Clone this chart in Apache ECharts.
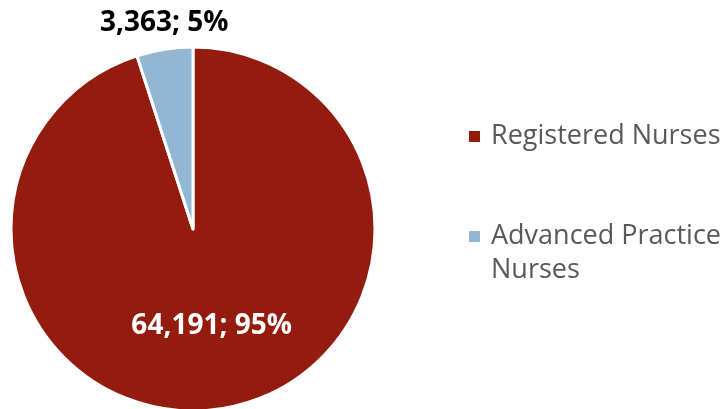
<!DOCTYPE html>
<html>
<head>
<meta charset="utf-8">
<script src="https://cdn.jsdelivr.net/npm/echarts@6/dist/echarts.min.js"></script>
<style>
html, body { margin: 0; padding: 0; background: #fff; }
#main { width: 728px; height: 409px; }
</style>
</head>
<body>
<div id="main"></div>
<script>
var names = ["Registered Nurses", "Advanced Practice Nurses"];
var values = [64191, 3363];
var percents = ["95%", "5%"];
var colors = ["#941c0f", "#93b6d2"];

function fmt(n) {
    return n.toString().replace(/\B(?=(\d{3})+(?!\d))/g, ",");
}

var chart = echarts.init(document.getElementById("main"));
var fontFam = "'Open Sans', 'Liberation Sans', sans-serif";

var pie_data = [];
for (var i = 0; i < names.length; i++) {
    var obj = {};
    obj["name"] = names[i];
    obj["value"] = values[i];
    obj["itemStyle"] = { color: colors[i] };
    pie_data.push(obj);
}
pie_data[0].label = { position: "inside", color: "#ffffff" };
pie_data[1].label = { position: "outside", color: "#000000" };
pie_data[1].labelLine = { show: false, length: 8, length2: 0 };

var legendRich = {
    t: { fontFamily: fontFam, fontSize: 27, color: "#595959", lineHeight: 34, padding: [0, 0, 0, 5] },
    e: { fontSize: 27, lineHeight: 34 }
};

var option = {
    animation: false,
    backgroundColor: "#ffffff",
    legend: [
        {
            orient: "vertical",
            left: 462,
            top: 118,
            icon: "rect",
            itemWidth: 13,
            itemHeight: 13,
            selectedMode: false,
            data: [names[0]],
            formatter: function (name) { return "{t|" + name + "}"; },
            textStyle: { rich: legendRich }
        },
        {
            orient: "vertical",
            left: 462,
            top: 184,
            icon: "rect",
            itemWidth: 13,
            itemHeight: 13,
            selectedMode: false,
            data: [names[1]],
            formatter: function (name) { return "{e| }\n{t|Advanced Practice}\n{t|Nurses}"; },
            textStyle: { rich: legendRich }
        }
    ],
    series: [
        {
            type: "pie",
            center: [193, 229],
            radius: 182,
            startAngle: 90,
            clockwise: true,
            data: pie_data,
            itemStyle: { borderColor: "#ffffff", borderWidth: 3 },
            label: {
                show: true,
                fontFamily: fontFam,
                fontSize: 28,
                fontWeight: "bold",
                formatter: function (p) {
                    return fmt(p.value) + "; " + percents[p.dataIndex];
                }
            },
            labelLayout: function (p) {
                if (p.dataIndex === 1) {
                    return { dx: 70, dy: -18 };
                }
                return { dx: 4, dy: 4 };
            },
            labelLine: { show: false },
            emphasis: { disabled: true }
        }
    ]
};
chart.setOption(option);
</script>
</body>
</html>
